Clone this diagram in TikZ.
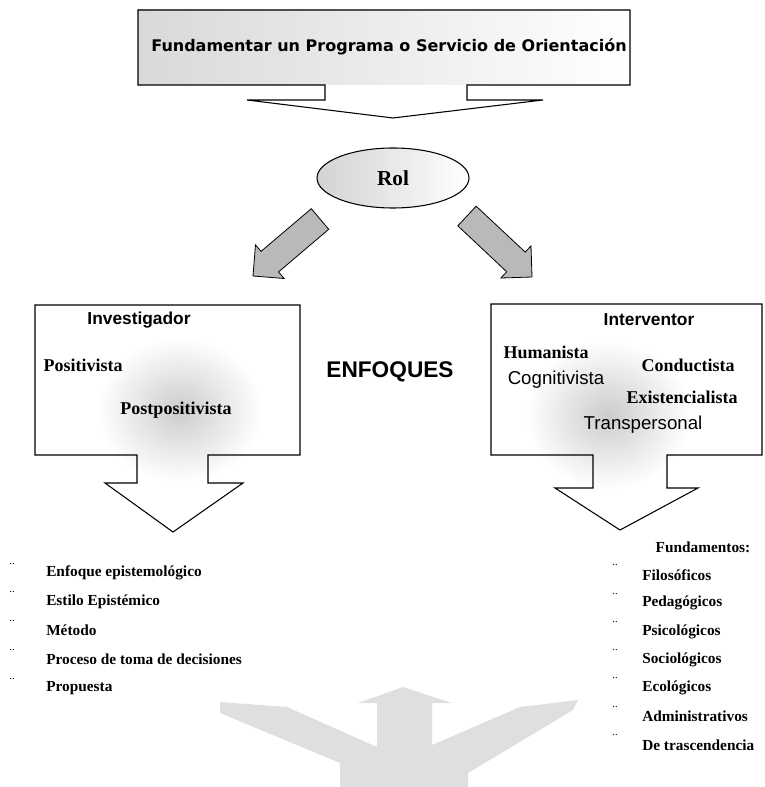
\documentclass[tikz,border=0pt]{standalone}
\usepackage{fontspec}
\setmainfont{Liberation Serif}
\setsansfont{Liberation Sans}
\newfontfamily\tahoma{DejaVu Sans}
\usetikzlibrary{positioning,shapes.geometric}
\tikzset{hd/.style={font=\sffamily\bfseries\fontsize{13}{15}\selectfont,inner sep=0pt},sr/.style={font=\bfseries\fontsize{13.5}{16}\selectfont,inner
sep=0pt},sn/.style={font=\sffamily\fontsize{14}{16}\selectfont,inner sep=0pt},it/.style={anchor=west,font=\bfseries\fontsize{11.5}{14}\selectfont,inner
sep=0pt},bl/.style={font=\fontsize{8}{9}\selectfont,inner sep=0pt},bigarr/.style={draw,fill=gray!55,line width=0.6pt},ln/.style={line width=0.8pt}}

\begin{document}
\begin{tikzpicture}[x=0.75pt,y=-0.75pt]
		\useasboundingbox (0,0) rectangle (764,787);
		\shade[left color=gray!30,middle color=white,right color=white] (138,10) -- (630,10) -- (630,85) -- (138,85) -- cycle;
		\draw[ln] (138,10) -- (630,10) -- (630,85) -- (467,85) -- (467,100) -- (543,100) -- (393,118) -- (247,100)
			-- (325,100) -- (325,85) -- (138,85) -- cycle;
		\node[font=\tahoma\bfseries\fontsize{12}{14}\selectfont] (tt) at (389,47) {Fundamentar un Programa o Servicio de Orientación};
		\node[ellipse,draw,ln,left color=gray!35,middle color=white,right color=white,minimum width=114pt,minimum height=45pt,
			font=\bfseries\fontsize{16}{18}\selectfont] (rol) at (393,178) {Rol};
		\draw[bigarr] (311.3,208.7) -- (328.7,229.3) -- (278.5,272.0) -- (284.1,278.5) -- (253,276) -- (255.5,244.9)
			-- (261.0,251.4) -- cycle;
		\draw[bigarr] (476.2,206.2) -- (525.2,252.1) -- (531.0,245.9) -- (532,277) -- (500.9,278.0) -- (506.7,271.8)
			-- (457.8,225.8) -- cycle;
		\shade[inner color=gray!40,outer color=white] (180,410) ellipse (62pt and 54pt);
		\shade[inner color=gray!40,outer color=white] (608,415) ellipse (62pt and 56pt);
		\draw[ln] (35,305) -- (300,305) -- (300,455) -- (208,455) -- (208,483) -- (243,483) -- (173,532) -- (105,483)
			-- (137,483) -- (137,455) -- (35,455) -- cycle;
		\draw[ln] (491,304) -- (762,304) -- (762,455) -- (667,455) -- (667,488) -- (698,488) -- (620,530) -- (555,488)
			-- (593,488) -- (593,455) -- (491,455) -- cycle;
		\node[hd] (inv) at (139,320) {Investigador};
		\node[sr] (pos) at (83,365) {Positivista};
		\node[sr] (ppos) at (176,410) {Postpositivista};
		\node[font=\sffamily\bfseries\fontsize{17}{20}\selectfont] (enf) at (390,372) {ENFOQUES};
		\node[hd] (itv) at (649,320) {Interventor};
		\node[sr] (hum) at (546,352) {Humanista};
		\node[sr] (con) at (688,365) {Conductista};
		\node[sn] (cog) at (556,380) {Cognitivista};
		\node[sr] (exi) at (682,397) {Existencialista};
		\node[sn] (tra) at (643,425) {Transpersonal};
		\foreach \t [count=\i] in {Enfoque epistemológico,Estilo Epistémico,Método,Proceso de toma de decisiones,Propuesta}{
			\node[it] (l\i) at (46,544.25+28.75*\i) {\t};
			\node[bl] (bl\i) at (12,535+28.75*\i) {..};
		}
		\node[it,anchor=center] (fund) at (703,547) {Fundamentos:};
		\foreach \t [count=\i] in {Filosóficos,Pedagógicos,Psicológicos,Sociológicos,Ecológicos,Administrativos,De trascendencia}{
			\node[it] (r\i) at (642,546.7+28.3*\i) {\t};
			\node[bl] (br\i) at (615,537+28.3*\i) {..};
		}
		\fill[gray!25] (403,687) -- (452,703) -- (432,703) -- (432,745) -- (520,707) -- (578,700) -- (573,710) -- (468,773)
			-- (468,787) -- (340,787) -- (340,763) -- (220,713) -- (220,702) -- (287,707) -- (377,747) -- (377,703)
			-- (358,703) -- cycle;
	\end{tikzpicture}
\end{document}
